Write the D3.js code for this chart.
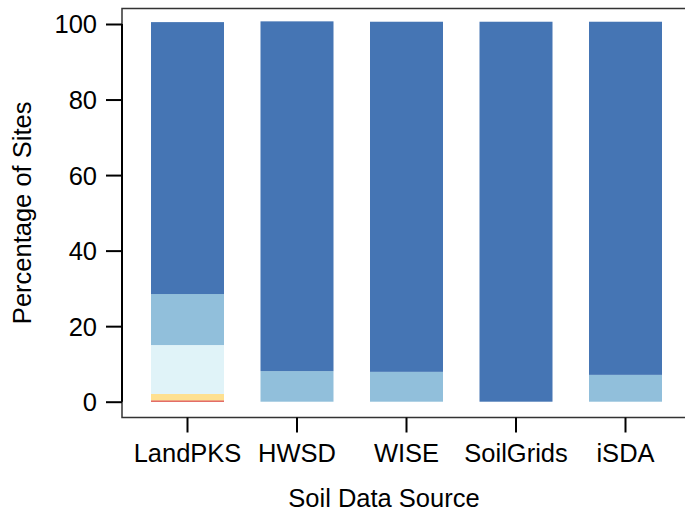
<!DOCTYPE html>
<html>
<head>
<meta charset="utf-8">
<script src="https://cdn.jsdelivr.net/npm/d3@7"></script>
<style>
  body { margin: 0; background: #fff; }
  text { font-family: "Liberation Sans", Arial, sans-serif; fill: #000; }
</style>
</head>
<body>
<div id="chart"></div>
<script>
const sources = ["LandPKS", "HWSD", "WISE", "SoilGrids", "iSDA"];
const classes = ["c1", "c2", "c3", "c4", "c5"];
const classColors = ["#d73027", "#fee090", "#e0f3f8", "#91bfdb", "#4575b4"];
// percentage of sites per class, bottom to top
const c1 = [0.35, 0, 0, 0, 0];
const c2 = [1.7, 0, 0, 0, 0];
const c3 = [12.95, 0, 0, 0, 0];
const c4 = [13.5, 8.1, 7.9, 0, 7.1];
const c5 = [72.0, 92.6, 92.7, 100.6, 93.5];
const yTicks = [0, 20, 40, 60, 80, 100];

const W = 685, H = 511;
const fs = "25.5px";
const svg = d3.select("#chart").append("svg")
    .attr("width", W)
    .attr("height", H);

const rows = sources.map((s, i) => ({
    source: s, c1: c1[i], c2: c2[i], c3: c3[i], c4: c4[i], c5: c5[i]
}));
const stacked = d3.stack().keys(classes)(rows);

const x = d3.scaleBand()
    .domain(sources)
    .range([151, 662])
    .paddingInner(1 / 3)
    .paddingOuter(0);

const y = d3.scaleLinear()
    .domain([0, 100])
    .range([401.7, 24]);

const color = d3.scaleOrdinal().domain(classes).range(classColors);

// bars
svg.append("g")
    .selectAll("g")
    .data(stacked)
    .enter().append("g")
    .attr("fill", d => color(d.key))
    .selectAll("rect")
    .data(d => d)
    .enter().append("rect")
    .attr("x", d => x(d.data.source))
    .attr("width", x.bandwidth())
    .attr("y", d => y(d[1]))
    .attr("height", d => y(d[0]) - y(d[1]));

// box (runs off the right edge like the original)
svg.append("path")
    .attr("d", "M700,8.5H122V417.5H700")
    .attr("fill", "none")
    .attr("stroke", "#333")
    .attr("stroke-width", 1.5);

// y axis
const yAxis = svg.append("g")
    .attr("transform", "translate(122,0)")
    .call(d3.axisLeft(y).tickValues(yTicks).tickSize(16).tickPadding(9).tickSizeOuter(0));
yAxis.select(".domain").attr("d", `M0,${y(0)}V${y(100)}`).attr("stroke", "#000").attr("stroke-width", 2);
yAxis.selectAll(".tick line").attr("stroke", "#000").attr("stroke-width", 2);
yAxis.selectAll(".tick text")
    .style("font-size", fs)
    .attr("dy", "0.35em");

// x axis
const xAxis = svg.append("g")
    .attr("transform", "translate(0,417.5)")
    .call(d3.axisBottom(x).tickSize(15).tickPadding(11).tickSizeOuter(0));
xAxis.select(".domain").remove();
xAxis.selectAll(".tick line").attr("stroke", "#000").attr("stroke-width", 2);
xAxis.selectAll(".tick text")
    .style("font-size", fs);

// axis titles
svg.append("text")
    .attr("x", 384)
    .attr("y", 507)
    .attr("text-anchor", "middle")
    .style("font-size", fs)
    .text("Soil Data Source");

svg.append("text")
    .attr("transform", `translate(31,${(y(0) + y(100)) / 2}) rotate(-90)`)
    .attr("text-anchor", "middle")
    .style("font-size", fs)
    .text("Percentage of Sites");
</script>
</body>
</html>
